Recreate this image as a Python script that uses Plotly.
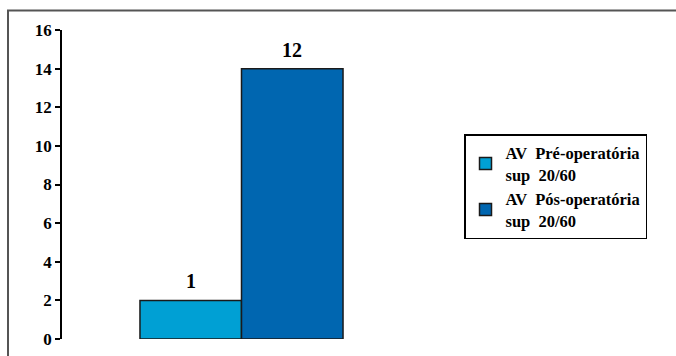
import plotly.graph_objects as go

series_names = ["AV  Pré-operatória<br>sup  20/60", "AV  Pós-operatória<br>sup  20/60"]
values = [2, 14]
value_labels = ["1", "12"]
positions = [0, 1]
colors = ["#00A0D4", "#0066B0"]
y_ticks = [0, 2, 4, 6, 8, 10, 12, 14, 16]

FONT = "Liberation Serif, Times New Roman, serif"

fig = go.Figure()
for name, v, pos, c in zip(series_names, values, positions, colors):
    fig.add_trace(go.Bar(
        x=[pos], y=[v], name="<b>%s</b>" % name.replace("<br>", "</b><br><b>"), width=1,
        marker=dict(color=c, line=dict(color="#1a1a1a", width=1.5)),
    ))

annotations = []
for v, pos, lab in zip(values, positions, value_labels):
    annotations.append(dict(
        x=pos, y=v, xref="x", yref="y", text="<b>%s</b>" % lab,
        showarrow=False, yanchor="bottom", yshift=6,
        font=dict(family=FONT, size=20, color="black"),
    ))

fig.update_layout(
    width=676, height=356,
    autosize=False,
    font=dict(family=FONT, size=16, color="black"),
    margin=dict(l=62, r=255, t=30, b=17, pad=0),
    paper_bgcolor="white", plot_bgcolor="white",
    barmode="overlay",
    showlegend=True,
    legend=dict(
        x=1.1198, y=0.663, xanchor="left", yanchor="top",
        bordercolor="black", borderwidth=1.5,
        font=dict(family=FONT, size=16.5, color="black"),
        itemwidth=30,
    ),
    xaxis=dict(range=[-1.268, 2.268], showgrid=False, zeroline=False,
               showticklabels=False, showline=False, ticks="", automargin=False),
    yaxis=dict(range=[0, 16], tickvals=y_ticks,
               ticktext=["<b>%d</b>" % t for t in y_ticks],
               showgrid=False, zeroline=False, showline=True, automargin=False,
               linecolor="black", linewidth=1.5,
               ticks="outside", ticklen=5, tickwidth=1.5, tickcolor="black",
               tickfont=dict(family=FONT, size=17, color="black")),
    annotations=annotations,
    shapes=[dict(type="rect", xref="paper", yref="paper",
                 x0=-0.1504, x1=1.75, y0=-0.08, y1=1.063,
                 line=dict(color="#555555", width=2), layer="below")],
)

fig.write_html("out.html")
